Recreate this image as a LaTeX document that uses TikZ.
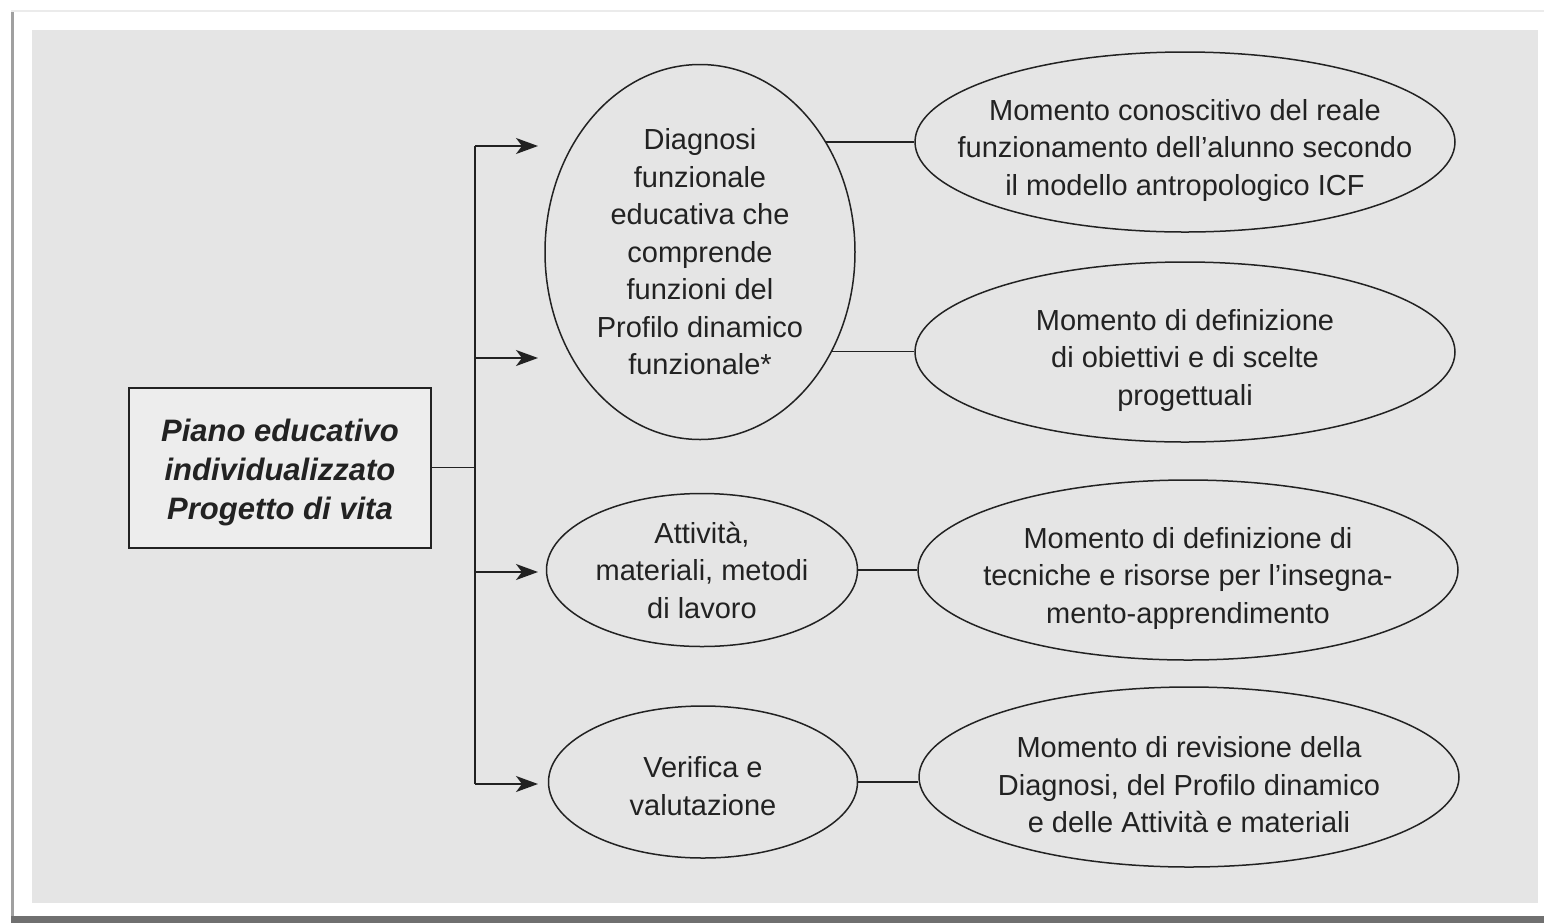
\documentclass[tikz,border=0pt]{standalone}
\usepackage{fontspec}
\setmainfont{Liberation Sans}
\usetikzlibrary{shapes.geometric,arrows.meta}

\definecolor{pagegray}{HTML}{E5E5E5}
\definecolor{boxgray}{HTML}{EDEDED}
\definecolor{ink}{HTML}{222222}
\definecolor{framegray}{HTML}{A0A0A0}
\definecolor{bandgray}{HTML}{707070}

\newcommand{\momento}[4]{

	\node[oval, minimum width=270pt, minimum height=90pt] (#1) at (#2,#3) {};
	\node[ovaltext, yshift=-4pt] (#1-text) at (#1) {#4};

}

\begin{document}
\begin{tikzpicture}[x=0.5pt, y=-0.5pt,
	ovaltext/.style={inner sep=0pt, align=center, text=ink, font=\fontsize{14.5pt}{18.75pt}\selectfont},
	oval/.style={ellipse, draw=ink, line width=0.75pt, ovaltext},
	link/.style={draw=ink, line width=0.75pt},
	arrowline/.style={link, -{Stealth[length=11pt, width=8pt, inset=3pt]}}]

	% page and scanned background
	\useasboundingbox (0,0) rectangle (1544,923);
	\fill[white] (0,0) rectangle (1544,923);
	\fill[framegray] (11,11) rectangle (14,923);
	\fill[black!8] (11,10) rectangle (1544,12);
	\fill[bandgray] (11,916) rectangle (1544,923);
	\fill[pagegray] (32,30) rectangle (1538,903);

	\node[draw=ink, line width=1pt, fill=boxgray, minimum width=151pt, minimum height=80pt] (piano) at (280,467.5) {};
	\node[align=center, text=ink, inner sep=0pt, yshift=-2.5pt,
		font=\fontsize{15.5pt}{19.5pt}\selectfont\bfseries\itshape] (piano-text) at (piano)
		{Piano educativo\\individualizzato\\Progetto di vita};

	\node[oval, minimum width=155pt, minimum height=187.5pt] (diagnosi) at (700,252)
		{Diagnosi\\funzionale\\educativa che\\comprende\\funzioni del\\Profilo dinamico\\funzionale*};
	\node[oval, minimum width=155.5pt, minimum height=76.5pt] (attivita) at (702,570)
		{Attività,\\materiali, metodi\\di lavoro};
	\node[oval, minimum width=154.5pt, minimum height=76pt] (verifica) at (703,782) {};
	\node[ovaltext, yshift=-2pt] (verifica-text) at (verifica) {Verifica e\\valutazione};

	\momento{conosc}{1185}{142}{Momento conoscitivo del reale\\funzionamento dell'alunno secondo\\il modello antropologico ICF}
	\momento{obiett}{1185}{352}{Momento di definizione\\di obiettivi e di scelte\\progettuali}
	\momento{tecniche}{1188}{570}{Momento di definizione di\\tecniche e risorse per l'insegna-\\mento-apprendimento}
	\momento{revisione}{1189}{777}{Momento di revisione della\\Diagnosi, del Profilo dinamico\\e delle Attività e materiali}

	% trunk and arrows
	\coordinate (trunk) at (475,467.5);
	\foreach \y/\n in {146/1, 358/2, 572/3, 784/4}
		\coordinate (tip\n) at (538,\y);
		; %end for \y
	\draw[link] (piano.east) -- (trunk);
	\draw[link] (trunk |- tip1) -- (trunk |- tip4);
	\foreach \n in {1, ..., 4}
		\draw[arrowline] (trunk |- tip\n) -- (tip\n);
		; %end for \n

	\draw[link] (diagnosi.41.2) -- (diagnosi.41.2 -| conosc.west);
	\draw[link] (diagnosi.-37.3) -- (diagnosi.-37.3 -| obiett.west);
	\draw[link] (attivita.east) -- (tecniche.west);
	\draw[link] (verifica.east) -- (verifica.east -| revisione.west);

\end{tikzpicture}
\end{document}
